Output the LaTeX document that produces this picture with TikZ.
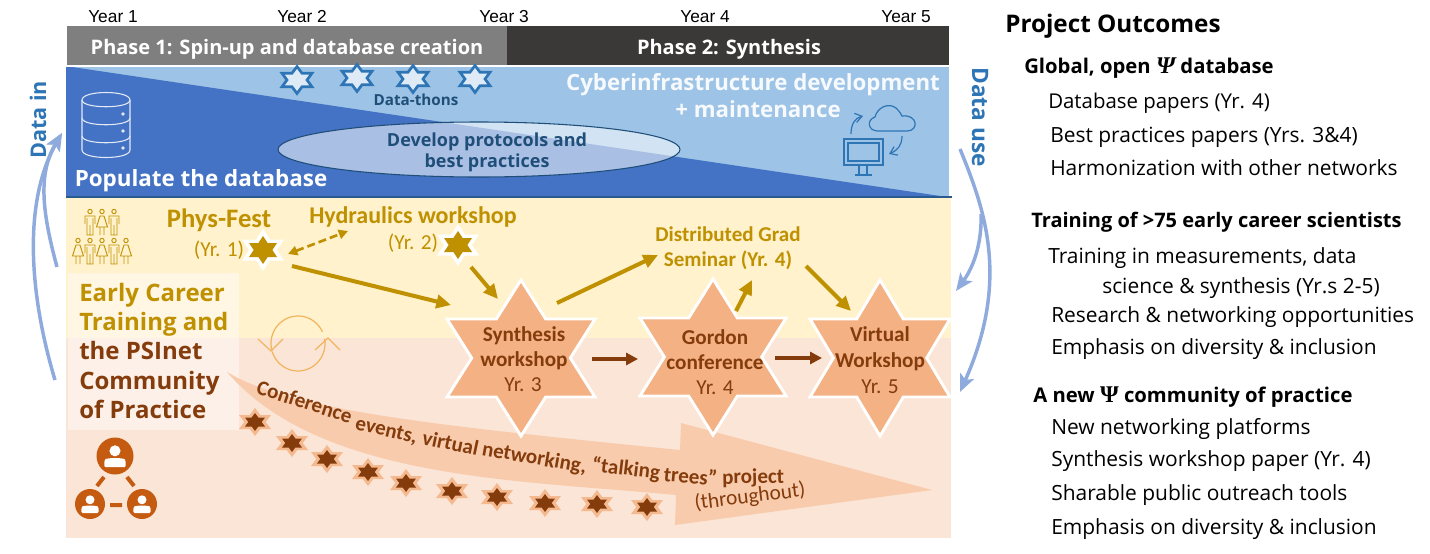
\documentclass[tikz,border=0pt]{standalone}
\usepackage{fontspec}
\usetikzlibrary{arrows.meta}
\setmainfont{Open Sans}
\newfontfamily\fcal{Carlito}
\newfontfamily\flib{Liberation Sans}
\newfontfamily\fpsi{Liberation Serif}
\newcommand\fsz[1]{\fontsize{#1}{#1}\selectfont}
\definecolor{ltblue}{HTML}{9DC3E6}
\definecolor{dkblue}{HTML}{4472C4}
\definecolor{navy}{HTML}{1F4E79}
\definecolor{midblue}{HTML}{2E75B6}
\definecolor{curveblue}{HTML}{8FAADC}
\definecolor{gold}{HTML}{BF9000}
\definecolor{brown}{HTML}{843C0C}
\definecolor{peach}{HTML}{F4B183}
\definecolor{lpeach}{HTML}{F8CBAD}
\definecolor{bandy}{HTML}{FFF2CC}
\definecolor{bandp}{HTML}{FBE5D6}
\definecolor{netor}{HTML}{C55A11}
\definecolor{phasedark}{HTML}{3B3838}
\definecolor{phasegray}{HTML}{7F7F7F}
\definecolor{cycleor}{HTML}{F2B45C}
\definecolor{dstarfill}{HTML}{DEEBF7}
\newcommand\starshape[4]{(#1,#2-#4) -- (#1+#3/3,#2-#4/2) -- (#1+#3,#2-#4/2) -- (#1+2*#3/3,#2) -- (#1+#3,#2+#4/2) -- (#1+#3/3,#2+#4/2) -- (#1,#2+#4) -- (#1-#3/3,#2+#4/2) -- (#1-#3,#2+#4/2) -- (#1-2*#3/3,#2) -- (#1-#3,#2-#4/2) -- (#1-#3/3,#2-#4/2) -- cycle}
\newcommand\smallstar[2]{\fill[peach!85!bandp] \starshape{#1}{#2}{16}{14}; \fill[brown] \starshape{#1}{#2}{10}{9};}
\newcommand\goldstar[2]{\fill[white] \starshape{#1}{#2}{21}{21}; \fill[gold] \starshape{#1}{#2}{14}{14};}
\newcommand\datastar[2]{\filldraw[draw=midblue,line width=2pt,fill=dstarfill] \starshape{#1}{#2}{15}{13.5};}
\newcommand\bigstar[3]{\filldraw[draw=white,line width=2.2pt,fill=peach,miter limit=10] \starshape{#1}{#2}{#3}{78};}
\newcommand\pman[2]{\draw[gold,line width=.7pt] (#1,#2+2.5) circle[radius=2.2] (#1-5,#2+15) -- (#1-5,#2+7) -- (#1+5,#2+7) -- (#1+5,#2+15) (#1-3,#2+9) -- (#1-3,#2+26) -- (#1+3,#2+26) -- (#1+3,#2+9) (#1,#2+16) -- (#1,#2+26);}
\newcommand\pwoman[2]{\draw[gold,line width=.7pt] (#1,#2+2.5) circle[radius=2.2] (#1-2,#2+7) -- (#1+2,#2+7) -- (#1+5.5,#2+18) -- (#1-5.5,#2+18) -- cycle (#1-2,#2+18) -- (#1-2,#2+26) (#1+2,#2+18) -- (#1+2,#2+26);}
\newcommand\netperson[3]{\fill[netor] (#1,#2) circle[radius=#3]; \fill[white] (#1,#2-.28*#3) circle[radius=.3*#3]; \fill[white,rounded corners=1pt] (#1-.58*#3,#2+.6*#3) -- (#1-.58*#3,#2+.25*#3) .. controls (#1-.45*#3,#2+.08*#3) and (#1+.45*#3,#2+.08*#3) .. (#1+.58*#3,#2+.25*#3) -- (#1+.58*#3,#2+.6*#3) -- cycle;}
\tikzset{
  x=0.75pt,y=-0.75pt,
  lbl/.style={inner sep=0pt,anchor=base},
  lblw/.style={inner sep=0pt,anchor=base west},
  yearlbl/.style={lbl,font=\flib\fsz{13}},
  phaselbl/.style={lbl,text=white,font=\bfseries\fsz{15}},
  goldline/.style={draw=gold,line width=3pt,-{Triangle[length=11pt,width=10pt]}},
  brownline/.style={draw=brown,line width=3pt,-{Triangle[length=9pt,width=9pt]}},
  bluecurve/.style={draw=curveblue,line width=2.6pt,-{Stealth[length=13pt,width=11pt,inset=3pt]}},
  outcomehead/.style={lblw,font=\bfseries\fsz{15.2}},
  outcome/.style={lblw,font=\fsz{15.7}},
  eventlbl/.style={lbl,text=brown,font=\fcal\fsz{16}},
  eventbold/.style={lbl,text=brown,font=\fcal\bfseries\fsz{15.9}},
  arrowword/.style={lblw,text=brown,font=\fcal\bfseries\fsz{15.8}},
  sidelbl/.style={inner sep=0pt,text=midblue,font=\bfseries},
  iconline/.style={draw=midblue,line width=.9pt},
  cycleline/.style={draw=cycleor,line width=.9pt},
}
\begin{document}
\begin{tikzpicture}
\useasboundingbox (0,0) rectangle (1430,553);
% phases
\fill[phasegray] (67,26) rectangle (507,65);
\fill[phasedark] (507,26) rectangle (949,65);
\node[phaselbl] (ph1) at (287,54) {Phase 1: Spin-up and database creation};
\node[phaselbl] (ph2) at (729,54) {Phase 2: Synthesis};
\node[yearlbl] (y1) at (113,22) {Year 1};
\node[yearlbl] (y2) at (302,22) {Year 2};
\node[yearlbl] (y3) at (504,22) {Year 3};
\node[yearlbl] (y4) at (705,22) {Year 4};
\node[yearlbl] (y5) at (906,22) {Year 5};
% bands
\fill[ltblue] (66,67) rectangle (949,197);
\fill[dkblue] (72,67) -- (947,197) -- (66,197) -- (66,67) -- cycle;
\draw[navy!70!dkblue,line width=.9pt] (66,197) -- (952,197);
\fill[bandy] (66,198) rectangle (951,338);
\fill[bandp] (66,338) rectangle (951,538);
% ellipse
\filldraw[draw=navy,line width=.8pt,fill=white,fill opacity=.55] (479,149.5) ellipse[x radius=201,y radius=27.5];
\node[lbl,text=navy,font=\bfseries\fsz{13.5}] (proto1) at (487,146) {Develop protocols and};
\node[lbl,text=navy,font=\bfseries\fsz{13.5}] (proto2) at (487,167) {best practices};
\datastar{297}{80}\datastar{357}{78}\datastar{413}{79}\datastar{475}{79}
\node[lbl,text=navy,font=\bfseries\fsz{11.4}] (thons) at (416,105) {Data-thons};
\node[lbl,text=white,font=\bfseries\fsz{16.8}] (pop) at (201,186) {Populate the database};
\node[lbl,text=white!92!ltblue,font=\bfseries\fsz{16.7}] (cyber) at (753,90) {Cyberinfrastructure development};
\node[lbl,text=white!92!ltblue,font=\bfseries\fsz{16.7}] (maint) at (758,117) {+ maintenance};
% database icon
\begin{scope}[draw=white!85!dkblue,line width=.8pt]
\draw (82,100) .. controls (82,90) and (130,90) .. (130,100) -- (130,150) .. controls (130,160) and (82,160) .. (82,150) -- cycle;
\draw (82,100) .. controls (82,109) and (130,109) .. (130,100);
\draw (82,118) .. controls (82,127) and (130,127) .. (130,118);
\draw (82,136) .. controls (82,145) and (130,145) .. (130,136);
\end{scope}
\fill[white!85!dkblue] (123,114) circle[radius=1.8] (123,131) circle[radius=1.8] (123,148) circle[radius=1.8];
% cloud & monitor
\draw[iconline] (878,131) .. controls (868,131) and (866,120) .. (875,117) .. controls (877,108) and (888,102) .. (896,108) .. controls (900,112) and (901,114) .. (902,116) .. controls (918,114) and (919,131) .. (907,131) -- cycle;
\draw[iconline] (844,139) rectangle (883,165);
\draw[iconline] (848,143) rectangle (879,161);
\draw[iconline] (859,166) -- (859,174) (867,166) -- (867,174) (855,175) -- (872,175);
\draw[iconline,-{Straight Barb[length=5pt,width=7pt]}] (851,134) .. controls (851,124) and (855,118) .. (863,116);
\draw[iconline,-{Straight Barb[length=5pt,width=7pt]}] (902,136) .. controls (902,145) and (898,150) .. (889,154);
% people
\pman{90}{209}\pwoman{102}{209}\pman{114}{209}
\pwoman{78}{238}\pman{90}{238}\pwoman{102}{238}\pman{114}{238}\pwoman{126}{238}
% panel
\fill[white,opacity=.45] (68,273) rectangle (239,430);
\node[lblw,text=gold,font=\bfseries\fsz{18}] (ec1) at (79,301) {Early Career};
\node[lblw,text=gold,font=\bfseries\fsz{18}] (ec2) at (79,330) {Training and};
\node[lblw,text=brown,font=\bfseries\fsz{18}] (ec3) at (79,359) {the PSInet};
\node[lblw,text=brown,font=\bfseries\fsz{18}] (ec4) at (79,389) {Community};
\node[lblw,text=brown,font=\bfseries\fsz{18}] (ec5) at (79,418) {of Practice};
% network icon
\netperson{115}{456}{18.5}\netperson{90}{504}{15}\netperson{142}{504}{15}
\draw[netor,line width=3pt] (104,477) -- (97,486) (127,477) -- (134,486) (110,505) -- (122,505);
% cycle
\draw[cycleline] plot[domain=195:25,samples=30] ({298+27*cos(\x)},{343.5-27.5*sin(\x)});
\draw[cycleline] plot[domain=10:-163,samples=30] ({298+27*cos(\x)},{343.5-27.5*sin(\x)});
\draw[cycleline] (258,339) -- (271,351) -- (283,339) (315,350) -- (328,338) -- (340,350);
% big arrow
\fill[lpeach] (227,372) .. controls (290,410) and (430,425) .. (680,450) -- (681,423) -- (932,490) -- (675,525) -- (676,495) .. controls (520,480) and (320,480) .. (227,372) -- cycle;
\node[arrowword,rotate=-18] (w1) at (255,393) {Conference};
\node[arrowword,rotate=-13] (w2) at (354,429) {events,};
\node[arrowword,rotate=-12] (w3) at (421,444) {virtual};
\node[arrowword,rotate=-10] (w4) at (481,455) {networking,};
\node[arrowword,rotate=-7] (w5) at (591,471) {“talking};
\node[arrowword,rotate=-5] (w6) at (663,481) {trees”};
\node[arrowword,rotate=1] (w7) at (722,484) {project};
\node[inner sep=0pt,text=brown,rotate=7,font=\fcal\fsz{16}] (through) at (750,497) {(throughout)};
\smallstar{255}{422}\smallstar{292}{443}\smallstar{327}{459}\smallstar{368}{472}\smallstar{406}{483}
\smallstar{452}{491}\smallstar{497}{497}\smallstar{545}{503}\smallstar{597}{504}\smallstar{647}{507}
% stars
\goldstar{263}{250}\goldstar{458}{245}
\bigstar{521}{358}{74}\bigstar{713}{357}{73}\bigstar{880}{358}{70}
\node[eventbold] (s1) at (524,341) {Synthesis};
\node[eventbold] (s2) at (524,366) {workshop};
\node[eventlbl] (s3) at (523,391) {Yr. 3};
\node[eventbold] (g1) at (715,344) {Gordon};
\node[eventbold] (g2) at (715,369) {conference};
\node[eventlbl] (g3) at (715,394) {Yr. 4};
\node[eventbold] (v1) at (880,341) {Virtual};
\node[eventbold] (v2) at (880,367) {Workshop};
\node[eventlbl] (v3) at (880,393) {Yr. 5};
% gold labels
\node[lbl,text=gold,font=\fcal\bfseries\fsz{20}] (pf) at (219,227) {Phys-Fest};
\node[lbl,text=gold,font=\fcal\fsz{16}] (pfy) at (219,256) {(Yr. 1)};
\node[lbl,text=gold,font=\fcal\bfseries\fsz{18}] (hw) at (413,223) {Hydraulics workshop};
\node[lbl,text=gold,font=\fcal\fsz{16}] (hwy) at (413,249) {(Yr. 2)};
\node[lbl,text=gold,font=\fcal\bfseries\fsz{15.8}] (dg1) at (728,241) {Distributed Grad};
\node[lbl,text=gold,font=\fcal\bfseries\fsz{15.8}] (dg2) at (728,266) {Seminar (Yr. 4)};
% connector ports
\coordinate (pfout) at (292,266); \coordinate (synthA) at (451,305);
\coordinate (pfdash) at (288,254); \coordinate (hwdash) at (348,231);
\coordinate (hwout) at (471,267); \coordinate (synthB) at (498,299);
\coordinate (synthC) at (557,303); \coordinate (dgin) at (658,255);
\coordinate (gout) at (736,311); \coordinate (dgin2) at (752,280);
\coordinate (dgout) at (806,266); \coordinate (vin) at (851,311);
\coordinate (synthR) at (592,359); \coordinate (gL) at (638,359);
\coordinate (gR) at (775,358); \coordinate (vL) at (822,358);
\draw[goldline] (pfout) -- (synthA);
\draw[draw=gold,line width=2pt,dash pattern=on 6pt off 3pt,{Triangle[length=7pt,width=7pt]}-{Triangle[length=7pt,width=7pt]}] (pfdash) -- (hwdash);
\draw[goldline] (hwout) -- (synthB);
\draw[goldline] (synthC) -- (dgin);
\draw[goldline] (gout) -- (dgin2);
\draw[goldline] (dgout) -- (vin);
\draw[brownline] (synthR) -- (gL);
\draw[brownline] (gR) -- (vL);
% side arrows
\coordinate (inA) at (55,380); \coordinate (inB) at (57,267); \coordinate (inTip) at (62,133);
\coordinate (useA) at (960,149); \coordinate (useATip) at (960,392); \coordinate (useB) at (981,214); \coordinate (useBTip) at (956,291);
\draw[bluecurve] (inA) .. controls (28,290) and (24,200) .. (inTip);
\draw[bluecurve] (inB) .. controls (43,215) and (37,175) .. (inTip);
\draw[bluecurve] (useA) .. controls (985,210) and (1010,280) .. (useATip);
\draw[bluecurve] (useB) .. controls (982,240) and (975,265) .. (useBTip);
\node[sidelbl,rotate=90,font=\bfseries\fsz{16.2}] (din) at (38,120) {Data in};
\node[sidelbl,rotate=-90,font=\bfseries\fsz{17}] (duse) at (980,117) {Data use};
% outcomes
\node[lblw,font=\bfseries\fsz{18.2}] (po) at (1005,32) {Project Outcomes};
\node[outcomehead] (o1) at (1024,73) {Global, open {\fpsi\itshape\fsz{18}Ψ} database};
\node[outcome,font=\fsz{15.3}] (o1a) at (1048,108) {Database papers (Yr. 4)};
\node[outcome] (o1b) at (1050,142) {Best practices papers (Yrs. 3\&4)};
\node[outcome] (o1c) at (1050,175) {Harmonization with other networks};
\node[outcomehead,font=\bfseries\fsz{15}] (o2) at (1031,227) {Training of >75 early career scientists};
\node[outcome] (o2a) at (1048,263) {Training in measurements, data};
\node[outcome] (o2b) at (1102,293) {science \& synthesis (Yr.s 2-5)};
\node[outcome] (o2c) at (1051,322) {Research \& networking opportunities};
\node[outcome] (o2d) at (1051,354) {Emphasis on diversity \& inclusion};
\node[outcomehead] (o3) at (1033,402) {A new {\fpsi\fsz{18}Ψ} community of practice};
\node[outcome] (o3a) at (1051,434) {New networking platforms};
\node[outcome] (o3b) at (1051,466) {Synthesis workshop paper (Yr. 4)};
\node[outcome] (o3c) at (1051,500) {Sharable public outreach tools};
\node[outcome] (o3d) at (1051,534) {Emphasis on diversity \& inclusion};
\end{tikzpicture}
\end{document}
